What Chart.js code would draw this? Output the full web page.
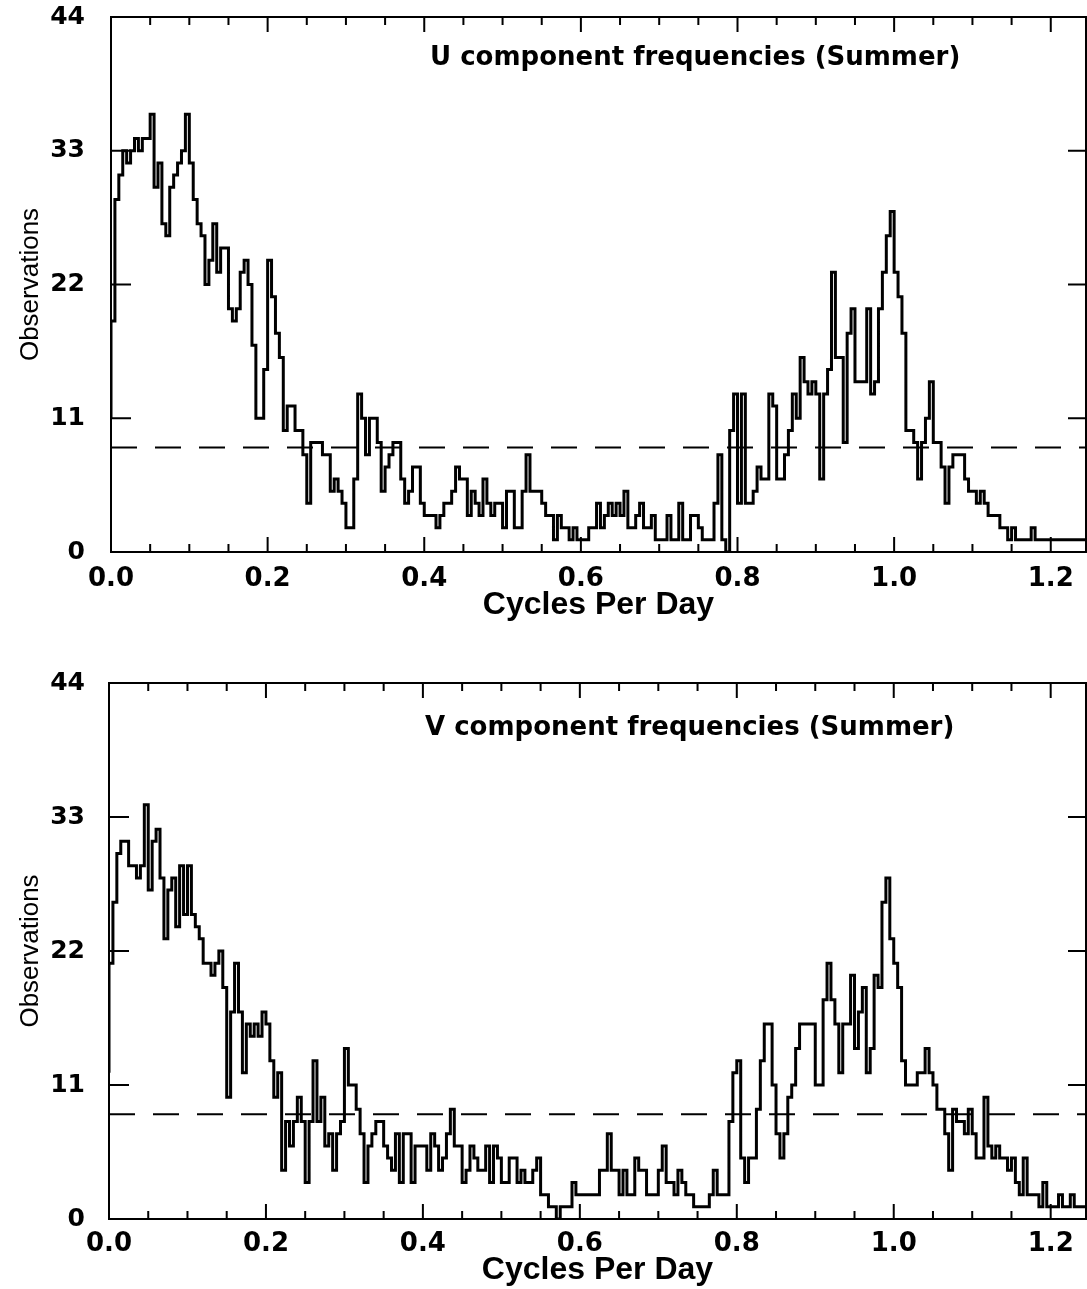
<!DOCTYPE html>
<html>
<head>
<meta charset="utf-8">
<title>U and V component frequencies (Summer)</title>
<script src="https://cdn.jsdelivr.net/npm/chart.js@4.4.0/dist/chart.umd.min.js"></script>
<style>
  html, body { margin: 0; padding: 0; background: #fff; }
  canvas { display: block; }
</style>
</head>
<body>
<canvas id="uChart" width="1087" height="640"></canvas>
<canvas id="vChart" width="1087" height="649"></canvas>
<script>
// histogram bins: 0.005 cycles/day each, starting at 0
const binWidth = 0.005;
const xMax = 1.245;
const xTickLabels = ['0.0', '0.2', '0.4', '0.6', '0.8', '1.0', '1.2'];
const yTickValues = [0, 11, 22, 33, 44];
const noiseLevel = 8.6;

// U component counts per bin
const uCounts = [
    11, 19, 29, 31, 33, 32, 33, 34, 33, 34,
    34, 36, 30, 32, 27, 26, 30, 31, 32, 33,
    36, 32, 29, 27, 26, 22, 24, 27, 23, 25,
    25, 20, 19, 20, 23, 24, 22, 17, 11, 11,
    15, 24, 21, 18, 16, 10, 12, 12, 10, 10,
    8, 4, 9, 9, 9, 8, 8, 5, 6, 5,
    4, 2, 2, 6, 13, 11, 8, 11, 11, 9,
    5, 7, 8, 9, 9, 6, 4, 5, 7, 7,
    4, 3, 3, 3, 2, 3, 4, 4, 5, 7,
    6, 6, 3, 5, 4, 3, 6, 4, 3, 4,
    4, 2, 5, 5, 2, 2, 5, 8, 5, 5,
    5, 4, 3, 3, 1, 3, 2, 2, 1, 2,
    1, 1, 1, 2, 2, 4, 2, 3, 4, 3,
    4, 3, 5, 2, 2, 3, 4, 2, 2, 3,
    1, 1, 1, 3, 1, 1, 4, 1, 1, 3,
    3, 2, 1, 1, 1, 4, 8, 1, 0, 10,
    13, 4, 13, 4, 4, 5, 7, 6, 6, 13,
    12, 6, 6, 8, 10, 13, 11, 16, 14, 13,
    14, 13, 6, 13, 15, 23, 16, 16, 9, 18,
    20, 14, 14, 14, 20, 13, 14, 20, 23, 26,
    28, 23, 21, 18, 10, 10, 9, 6, 9, 11,
    14, 9, 9, 7, 4, 7, 8, 8, 8, 6,
    5, 5, 4, 5, 4, 3, 3, 3, 2, 2,
    1, 2, 1, 1, 1, 1, 2, 1, 1, 1,
    1, 1, 1, 1, 1, 1, 1, 1, 1
];

// V component counts per bin
const vCounts = [
    12, 21, 26, 30, 31, 31, 29, 29, 28, 29,
    34, 27, 31, 32, 28, 23, 27, 28, 24, 29,
    25, 29, 25, 24, 23, 21, 21, 20, 21, 22,
    19, 10, 17, 21, 17, 12, 16, 15, 16, 15,
    17, 16, 13, 10, 12, 4, 8, 6, 8, 10,
    8, 3, 8, 13, 8, 10, 6, 7, 4, 7,
    8, 14, 11, 11, 9, 7, 3, 6, 7, 8,
    8, 6, 5, 4, 7, 3, 7, 7, 3, 6,
    6, 6, 4, 7, 6, 4, 5, 7, 9, 6,
    6, 3, 4, 6, 5, 4, 4, 6, 3, 6,
    5, 3, 3, 5, 5, 3, 4, 3, 3, 4,
    5, 2, 2, 1, 1, 0, 1, 1, 1, 3,
    2, 2, 2, 2, 2, 2, 4, 4, 7, 4,
    4, 2, 4, 2, 2, 5, 4, 4, 2, 2,
    2, 4, 6, 3, 3, 2, 4, 3, 2, 2,
    1, 1, 1, 1, 2, 4, 2, 2, 2, 8,
    12, 13, 5, 3, 5, 5, 9, 13, 16, 16,
    11, 7, 5, 7, 10, 11, 14, 16, 16, 16,
    16, 11, 11, 18, 21, 18, 16, 12, 16, 16,
    20, 14, 17, 19, 12, 14, 20, 19, 26, 28,
    23, 21, 19, 13, 11, 11, 11, 12, 12, 14,
    12, 11, 9, 9, 7, 4, 9, 8, 8, 7,
    9, 7, 5, 5, 10, 6, 5, 6, 5, 5,
    4, 5, 3, 2, 5, 2, 2, 2, 1, 3,
    1, 1, 1, 2, 1, 1, 2, 1, 1
];

// frame, inward tick marks and the panel caption
const panelFrame = {
    id: 'panelFrame',
    afterDraw(chart, args, opts) {
        const {ctx, chartArea: a, scales: {x, y}} = chart;
        ctx.save();
        ctx.strokeStyle = '#000';
        ctx.lineWidth = 2;
        ctx.strokeRect(a.left, a.top, a.right - a.left, a.bottom - a.top);
        ctx.beginPath();
        x.ticks.forEach(t => {
            const px = x.getPixelForValue(t.value);
            const len = t.label ? 15 : 8;
            ctx.moveTo(px, a.bottom);
            ctx.lineTo(px, a.bottom - len);
            ctx.moveTo(px, a.top);
            ctx.lineTo(px, a.top + len);
        });
        y.ticks.forEach(t => {
            const py = y.getPixelForValue(t.value);
            ctx.moveTo(a.left, py);
            ctx.lineTo(a.left + 20, py);
            ctx.moveTo(a.right, py);
            ctx.lineTo(a.right - 18, py);
        });
        ctx.stroke();
        ctx.fillStyle = '#000';
        ctx.font = 'bold 26px "DejaVu Sans"';
        ctx.textBaseline = 'middle';
        ctx.textAlign = 'left';
        ctx.fillText(opts.text, opts.x, a.top + opts.dy);
        ctx.restore();
    }
};

function toSteps(counts) {
    const pts = counts.map((c, i) => ({x: i * binWidth, y: c}));
    pts.push({x: counts.length * binWidth, y: counts[counts.length - 1]});
    return pts;
}

function xLabel(value) {
    const k = Math.round(value / 0.2);
    return Math.abs(value - k * 0.2) < 1e-6 ? (xTickLabels[k] || '') : '';
}

function buildPanel(canvasId, counts, caption, cfg) {
    const ctx = document.getElementById(canvasId).getContext('2d');
    return new Chart(ctx, {
        type: 'line',
        data: {
            datasets: [
                {
                    data: toSteps(counts),
                    stepped: 'after',
                    borderColor: '#000',
                    borderWidth: 3,
                    pointRadius: 0,
                    fill: false
                },
                {
                    data: [{x: 0, y: noiseLevel}, {x: xMax, y: noiseLevel}],
                    borderColor: '#000',
                    borderWidth: 2,
                    borderDash: [26, 18],
                    pointRadius: 0,
                    fill: false
                }
            ]
        },
        options: {
            responsive: false,
            animation: false,
            layout: {padding: {top: cfg.top, right: 1, left: 0, bottom: 0}},
            plugins: {
                legend: {display: false},
                tooltip: {enabled: false},
                panelFrame: {text: caption, x: cfg.captionX, dy: cfg.captionDy}
            },
            scales: {
                x: {
                    type: 'linear',
                    min: 0,
                    max: xMax,
                    grid: {display: false},
                    border: {display: false},
                    ticks: {
                        stepSize: 0.05,
                        includeBounds: false,
                        autoSkip: false,
                        maxRotation: 0,
                        padding: cfg.xTickPad,
                        color: '#000',
                        font: {family: 'DejaVu Sans', weight: 'bold', size: 26},
                        callback: xLabel
                    },
                    title: {
                        display: true,
                        text: 'Cycles Per Day',
                        color: '#000',
                        font: {family: 'Liberation Sans', weight: 'bold', size: 32},
                        padding: {top: 0, bottom: cfg.xTitlePad}
                    },
                    afterFit: s => {
                        s.height = cfg.xHeight;
                        s.paddingLeft = 0;
                        s.paddingRight = 0;
                    }
                },
                y: {
                    min: 0,
                    max: 44,
                    grid: {display: false},
                    border: {display: false},
                    afterBuildTicks: s => { s.ticks = yTickValues.map(v => ({value: v})); },
                    ticks: {
                        padding: cfg.yTickPad,
                        color: '#000',
                        font: {family: 'DejaVu Sans', weight: 'bold', size: 25}
                    },
                    title: {
                        display: true,
                        text: 'Observations',
                        color: '#000',
                        font: {family: 'Liberation Sans', size: 26},
                        padding: {top: 15, bottom: 0}
                    },
                    afterFit: s => {
                        s.width = cfg.yWidth;
                        s.paddingTop = 0;
                        s.paddingBottom = 0;
                    }
                }
            }
        },
        plugins: [panelFrame]
    });
}

document.addEventListener('DOMContentLoaded', function() {
    buildPanel('uChart', uCounts, 'U component frequencies (Summer)', {
        top: 17, xHeight: 88, xTickPad: 4, xTitlePad: 16, yWidth: 111, yTickPad: 18,
        captionX: 430, captionDy: 41
    });
    buildPanel('vChart', vCounts, 'V component frequencies (Summer)', {
        top: 43, xHeight: 70, xTickPad: 2, xTitlePad: 0, yWidth: 109, yTickPad: 16,
        captionX: 425, captionDy: 45
    });
});
</script>
</body>
</html>
